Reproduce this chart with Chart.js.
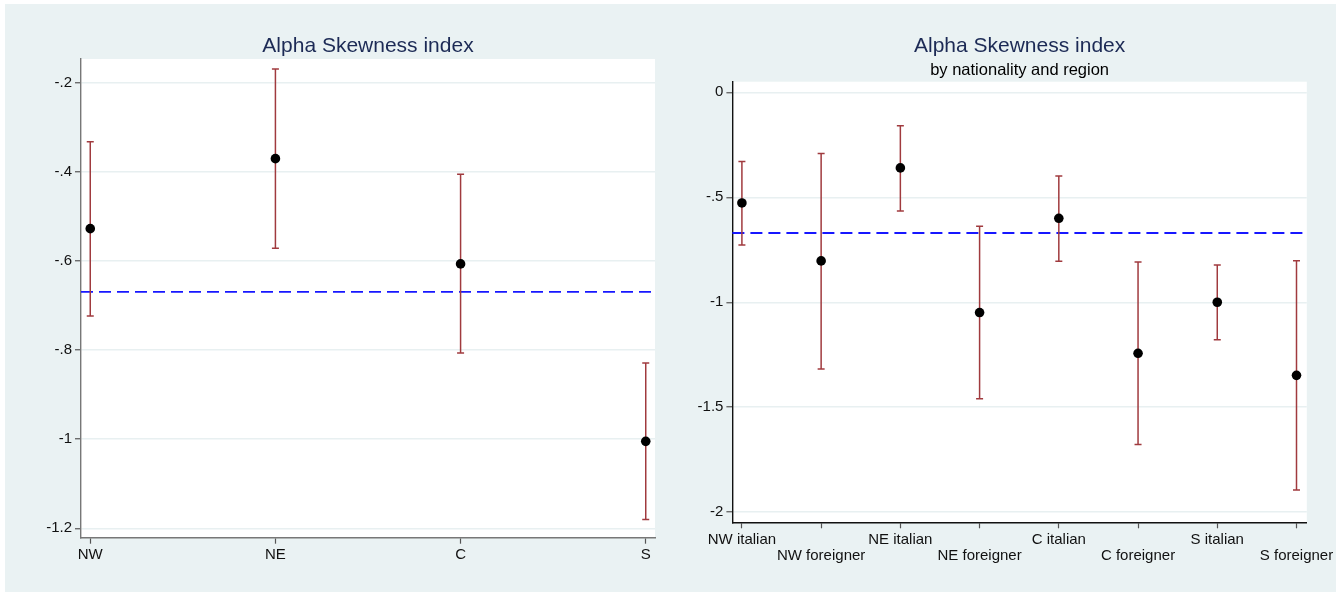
<!DOCTYPE html>
<html><head><meta charset="utf-8">
<script src="https://cdn.jsdelivr.net/npm/chart.js@4.4.0/dist/chart.umd.min.js"></script>
<style>
html,body{margin:0;padding:0;background:#fff;width:1344px;height:593px;overflow:hidden;}
#bg{position:absolute;left:5px;top:4px;width:1331px;height:588px;background:#eaf2f3;}
#c1{position:absolute;left:5px;top:4px;}
#c2{position:absolute;left:672px;top:4px;}
</style></head><body>
<div id="bg"></div>
<canvas id="c1" width="667" height="588"></canvas>
<canvas id="c2" width="664" height="588"></canvas>
<script>
// ---- Left panel data ----
const regions = ['NW', 'NE', 'C', 'S'];
const regionMean = [-0.528, -0.371, -0.607, -1.005];
const regionLow  = [-0.724, -0.572, -0.807, -1.180];
const regionHigh = [-0.333, -0.170, -0.406, -0.829];
const leftYTicks  = [-1.2, -1, -0.8, -0.6, -0.4, -0.2];
const leftYLabels = ['-1.2', '-1', '-.8', '-.6', '-.4', '-.2'];

// ---- Right panel data ----
const groups = ['NW italian', 'NW foreigner', 'NE italian', 'NE foreigner', 'C italian', 'C foreigner', 'S italian', 'S foreigner'];
const groupMean = [-0.527, -0.803, -0.360, -1.049, -0.600, -1.243, -1.000, -1.348];
const groupLow  = [-0.727, -1.318, -0.565, -1.459, -0.805, -1.678, -1.178, -1.894];
const groupHigh = [-0.329, -0.292, -0.159, -0.638, -0.399, -0.808, -0.822, -0.802];
const rightYTicks  = [-2, -1.5, -1, -0.5, 0];
const rightYLabels = ['-2', '-1.5', '-1', '-.5', '0'];

// overall reference (dashed line)
const overallMean = -0.67;

const FONT = "'Liberation Sans', Arial, sans-serif";

const plotBg = {
  id: 'plotBg',
  beforeDraw(chart) {
    const {ctx, chartArea: a} = chart;
    ctx.save(); ctx.fillStyle = '#ffffff';
    ctx.fillRect(a.left, a.top, a.right - a.left, a.bottom - a.top);
    ctx.restore();
  }
};
const meanLine = {
  id: 'meanLine',
  beforeDatasetsDraw(chart, args, opts) {
    const {ctx, chartArea: a, scales: {y}} = chart;
    const py = y.getPixelForValue(opts.value);
    ctx.save();
    ctx.strokeStyle = '#1717ff'; ctx.lineWidth = 1.8; ctx.setLineDash([12, 6]);
    ctx.beginPath(); ctx.moveTo(a.left, py); ctx.lineTo(a.right, py); ctx.stroke();
    ctx.restore();
  }
};

function build(canvasId, cfg) {
  const pts = cfg.mean.map((v, i) => ({x: i, y: v}));
  const whisk = [];
  cfg.cats.forEach((c, i) => {
    whisk.push({x: i, y: cfg.low[i]}, {x: i, y: cfg.high[i]}, {x: i, y: null});
  });
  const titlePlugins = {
    legend: {display: false},
    tooltip: {enabled: false},
    meanLine: {value: overallMean},
    title: {
      display: true, text: cfg.title, color: '#1c2a55', fullSize: false,
      font: {family: FONT, size: 21, weight: 'normal', lineHeight: 1.2},
      padding: cfg.titlePad
    },
    subtitle: {
      display: !!cfg.subtitle, text: cfg.subtitle || '', color: '#000', fullSize: false,
      font: {family: FONT, size: 16.5, weight: 'normal', lineHeight: 1.2},
      padding: cfg.subPad || 0
    }
  };
  return new Chart(document.getElementById(canvasId), {
    type: 'scatter',
    data: {
      datasets: [
        {
          data: pts, backgroundColor: '#000', borderColor: '#000',
          pointRadius: 4.8, pointHoverRadius: 4.8, borderWidth: 0
        },
        {
          type: 'line', data: whisk, showLine: true, spanGaps: false,
          borderColor: '#a03a3e', borderWidth: 1.5,
          pointStyle: 'line', pointRadius: 3.5, pointHoverRadius: 3.5,
          pointBorderColor: '#a03a3e', pointBorderWidth: 1.5
        }
      ]
    },
    options: {
      responsive: false, animation: false, events: [],
      devicePixelRatio: 1,
      layout: {padding: {left: 0, right: cfg.padRight, top: 0, bottom: 0}},
      plugins: titlePlugins,
      scales: {
        x: {
          type: 'linear', min: cfg.xMin, max: cfg.xMax,
          afterBuildTicks: s => { s.ticks = cfg.cats.map((c, i) => ({value: i})); },
          afterFit: s => { s.height = cfg.xHeight; s.paddingLeft = 0; s.paddingRight = 0; },
          ticks: {
            autoSkip: false, maxRotation: 0, minRotation: 0,
            padding: cfg.xPad, color: '#111',
            font: {family: FONT, size: 15, lineHeight: cfg.xLineHeight},
            callback: v => cfg.xLabel(Math.round(v))
          },
          grid: {drawOnChartArea: false, drawTicks: true, tickLength: 6, tickColor: '#555', tickWidth: 1.2},
          border: {display: true, color: cfg.axisColor, width: 1.4}
        },
        y: {
          type: 'linear', min: cfg.yMin, max: cfg.yMax,
          afterBuildTicks: s => { s.ticks = cfg.yTicks.map(v => ({value: v})); },
          afterFit: s => { s.width = cfg.yWidth; s.paddingTop = 0; s.paddingBottom = 0; },
          ticks: {
            padding: 3, color: '#111',
            font: {family: FONT, size: 15, lineHeight: 1.2},
            callback: v => { const k = cfg.yTicks.findIndex(t => Math.abs(t - v) < 1e-9); return k >= 0 ? cfg.yLabels[k] : ''; }
          },
          grid: {color: '#e8f0f1', lineWidth: 1.5, drawTicks: true, tickLength: 6, tickColor: '#555', tickWidth: 1.2},
          border: {display: true, color: cfg.axisColor, width: 1.4}
        }
      }
    },
    plugins: [plotBg, meanLine]
  });
}

build('c1', {
  cats: regions, mean: regionMean, low: regionLow, high: regionHigh,
  yTicks: leftYTicks, yLabels: leftYLabels,
  title: 'Alpha Skewness index',
  titlePad: {top: 29.4, bottom: 0.4},
  xMin: -0.05, xMax: 3.05, yMin: -1.221, yMax: -0.1476,
  yWidth: 76, xHeight: 54.3, padRight: 17,
  xPad: 2.3, xLineHeight: 1.2,
  axisColor: '#777',
  xLabel: i => regions[i]
});

build('c2', {
  cats: groups, mean: groupMean, low: groupLow, high: groupHigh,
  yTicks: rightYTicks, yLabels: rightYLabels,
  title: 'Alpha Skewness index',
  subtitle: 'by nationality and region',
  titlePad: {top: 29.4, bottom: 0},
  subPad: {top: 2.2, bottom: 1.1},
  xMin: -0.12, xMax: 7.13, yMin: -2.048, yMax: 0.0505,
  yWidth: 60.4, xHeight: 69.7, padRight: 29.2,
  xPad: 3.7, xLineHeight: 16 / 15,
  axisColor: '#111',
  xLabel: i => (i % 2 === 1 ? ['', groups[i]] : groups[i])
});
</script>
</body></html>
